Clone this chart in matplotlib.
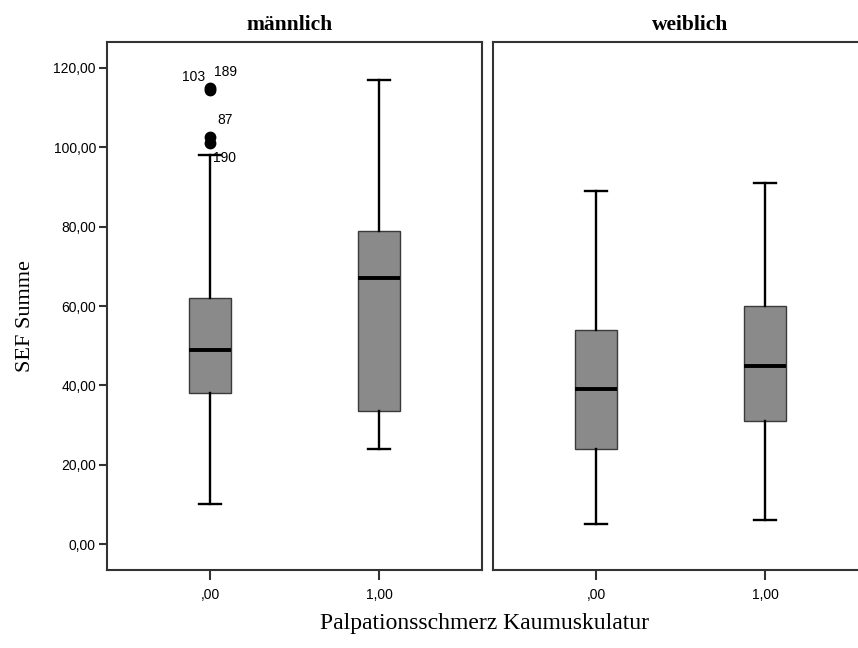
import matplotlib
matplotlib.use("Agg")
import matplotlib.pyplot as plt
from matplotlib.ticker import FuncFormatter

# Werte
gruppen = ["männlich", "weiblich"]
kategorien = [",00", "1,00"]

# pro Gruppe: [kategorie ,00, kategorie 1,00]
whisker_unten = {"männlich": [10, 24], "weiblich": [5, 6]}
q1 = {"männlich": [38, 33.5], "weiblich": [24, 31]}
median = {"männlich": [49, 67], "weiblich": [39, 45]}
q3 = {"männlich": [62, 79], "weiblich": [54, 60]}
whisker_oben = {"männlich": [98, 117], "weiblich": [89, 91]}

# Ausreisser (nur männlich, ,00)
ausreisser_werte = [115, 114.5, 102.6, 101.1]
ausreisser_ids = ["189", "103", "87", "190"]

y_ticks = [0, 20, 40, 60, 80, 100, 120]

fig = plt.figure(figsize=(8.58, 6.48), dpi=100)
W, H = 858, 648
ax1 = fig.add_axes([107 / W, 1 - 570 / H, 375 / W, 528 / H])
ax2 = fig.add_axes([493 / W, 1 - 570 / H, 375 / W, 528 / H])

box_col = "#8a8a8a"
edge_col = "#3a3a3a"

for ax, g in zip([ax1, ax2], gruppen):
    stats = []
    for i in range(len(kategorien)):
        stats.append({
            "whislo": whisker_unten[g][i],
            "q1": q1[g][i],
            "med": median[g][i],
            "q3": q3[g][i],
            "whishi": whisker_oben[g][i],
            "fliers": ausreisser_werte if (g == "männlich" and i == 0) else [],
        })
    ax.bxp(stats, positions=[0, 1], widths=0.25, patch_artist=True,
           boxprops=dict(facecolor=box_col, edgecolor=edge_col, linewidth=1.0),
           medianprops=dict(color="black", linewidth=2.8),
           whiskerprops=dict(color="black", linewidth=1.7),
           capprops=dict(color="black", linewidth=1.7),
           capwidths=0.13,
           flierprops=dict(marker="o", markerfacecolor="black", markeredgecolor="black",
                           markersize=7.5))
    ax.set_xlim(-0.61, 1.61)
    ax.set_ylim(-6.55, 126.55)
    ax.set_xticks([0, 1])
    ax.set_xticklabels(kategorien, fontsize=10, family="Liberation Sans")
    for s in ax.spines.values():
        s.set_color("#333333")
        s.set_linewidth(1.5)
    ax.tick_params(axis="x", direction="out", length=7, width=1.5, color="#333333", pad=6)
    ax.tick_params(axis="y", direction="out", length=6, width=1.5, color="#333333", pad=2)

ax1.set_yticks(y_ticks)
ax1.yaxis.set_major_formatter(FuncFormatter(lambda v, p: f"{v:.2f}".replace(".", ",")))
for lab in ax1.get_yticklabels():
    lab.set_fontsize(10)
    lab.set_family("Liberation Sans")
ax2.set_yticks([])

# Beschriftung der Ausreisser
ausreisser_offsets = {"189": (3, 11.5, "left"), "103": (-3.5, 9.5, "right"),
                      "87": (5, 12, "left"), "190": (2, -11, "left")}
for wert, name in zip(ausreisser_werte, ausreisser_ids):
    dx, dy, ha = ausreisser_offsets[name]
    ax1.annotate(name, xy=(0, wert), xytext=(dx, dy), textcoords="offset points",
                 fontsize=10, family="Liberation Sans", ha=ha, va="center")

fig.text(290 / W, 1 - 25 / H, gruppen[0], fontsize=15.5, fontweight="bold",
         family="Liberation Serif", ha="center", va="center")
fig.text(690 / W, 1 - 25 / H, gruppen[1], fontsize=15.5, fontweight="bold",
         family="Liberation Serif", ha="center", va="center")

fig.text(26 / W, 1 - 316 / H, "SEF Summe", fontsize=16, rotation=90,
         family="Liberation Serif", ha="center", va="center")
fig.text(484 / W, 1 - 624 / H, "Palpationsschmerz Kaumuskulatur", fontsize=17,
         family="Liberation Serif", ha="center", va="center")

fig.savefig("out.png", dpi=100)
